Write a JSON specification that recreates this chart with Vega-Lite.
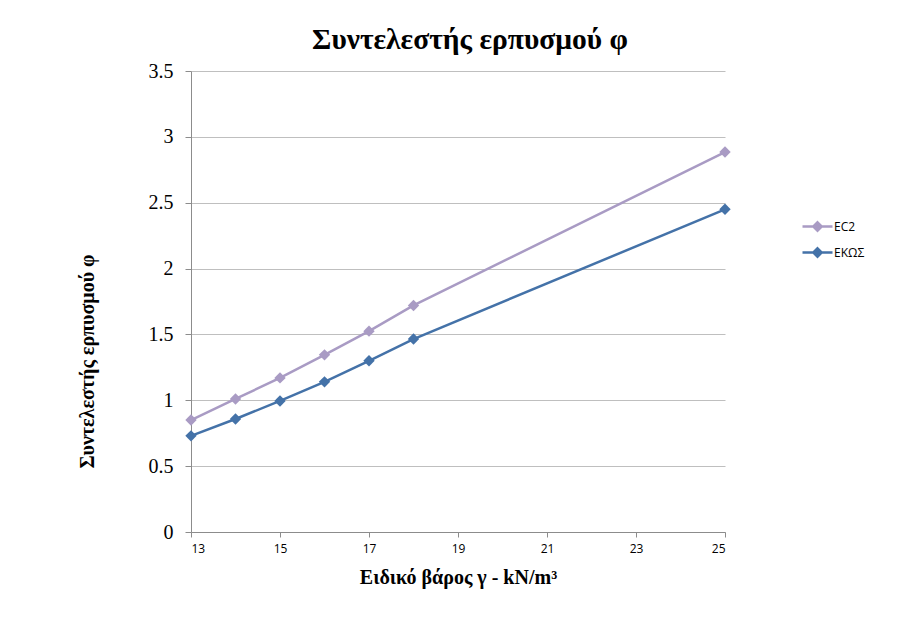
{
  "$schema": "https://vega.github.io/schema/vega-lite/v6.json",
  "width": 534,
  "height": 461,
  "autosize": {"type": "none"},
  "padding": {"left": 191, "top": 71, "right": 190, "bottom": 99},
  "background": "white",
  "config": {
    "view": {"stroke": null},
    "axis": {"domainColor": "#8C8C8C", "tickColor": "#8C8C8C", "gridColor": "#BFBFBF", "labelColor": "#000000", "titleColor": "#000000"}
  },
  "title": {
    "text": "Συντελεστής ερπυσμού φ",
    "font": "Liberation Serif",
    "fontSize": 29.5,
    "fontWeight": "bold",
    "color": "#000000",
    "anchor": "middle",
    "baseline": "alphabetic",
    "offset": -17,
    "dx": 12
  },
  "data": {
    "values": [
      {"gamma": 13, "phi": 0.85, "series": "EC2"},
      {"gamma": 14, "phi": 1.01, "series": "EC2"},
      {"gamma": 15, "phi": 1.17, "series": "EC2"},
      {"gamma": 16, "phi": 1.345, "series": "EC2"},
      {"gamma": 17, "phi": 1.525, "series": "EC2"},
      {"gamma": 18, "phi": 1.72, "series": "EC2"},
      {"gamma": 25, "phi": 2.885, "series": "EC2"},
      {"gamma": 13, "phi": 0.73, "series": "ΕΚΩΣ"},
      {"gamma": 14, "phi": 0.858, "series": "ΕΚΩΣ"},
      {"gamma": 15, "phi": 0.995, "series": "ΕΚΩΣ"},
      {"gamma": 16, "phi": 1.14, "series": "ΕΚΩΣ"},
      {"gamma": 17, "phi": 1.3, "series": "ΕΚΩΣ"},
      {"gamma": 18, "phi": 1.465, "series": "ΕΚΩΣ"},
      {"gamma": 25, "phi": 2.45, "series": "ΕΚΩΣ"}
    ]
  },
  "encoding": {
    "x": {
      "field": "gamma",
      "type": "quantitative",
      "scale": {"domain": [13, 25], "nice": false, "zero": false},
      "axis": {
        "title": "Ειδικό βάρος γ - kN/m³",
        "titleFont": "Liberation Serif",
        "titleFontSize": 20,
        "titleFontWeight": "bold",
        "titleBaseline": "alphabetic",
        "titleY": 51,
        "values": [13, 15, 17, 19, 21, 23, 25],
        "grid": false,
        "labelFont": "Open Sans",
        "labelFontSize": 12,
        "labelPadding": 6,
        "tickSize": 5
      }
    },
    "y": {
      "field": "phi",
      "type": "quantitative",
      "scale": {"domain": [0, 3.5], "nice": false},
      "axis": {
        "title": "Συντελεστής ερπυσμού φ",
        "titleFont": "Liberation Serif",
        "titleFontSize": 20,
        "titleFontWeight": "bold",
        "titleX": -94,
        "titleY": 290,
        "values": [0, 0.5, 1, 1.5, 2, 2.5, 3, 3.5],
        "format": "~g",
        "labelFont": "Liberation Serif",
        "labelFontSize": 20,
        "labelPadding": 12,
        "tickSize": 6
      }
    },
    "color": {
      "field": "series",
      "type": "nominal",
      "scale": {"domain": ["EC2", "ΕΚΩΣ"], "range": ["#A99BC4", "#4472A8"]},
      "legend": {
        "title": null,
        "orient": "none",
        "legendX": 610,
        "legendY": 139,
        "symbolType": "M-1,0H1M0,-0.28L0.28,0L0,0.28L-0.28,0Z",
        "symbolSize": 900,
        "symbolStrokeWidth": 2.5,
        "labelFont": "Open Sans",
        "labelFontSize": 12,
        "labelOffset": 0,
        "rowPadding": -5,
        "encode": {
          "symbols": {
            "update": {
              "fill": {"scale": "color", "field": "value"},
              "stroke": {"scale": "color", "field": "value"}
            }
          }
        }
      }
    }
  },
  "layer": [
    {"mark": {"type": "line", "strokeWidth": 2.5}},
    {"mark": {"type": "point", "shape": "diamond", "filled": true, "size": 130, "opacity": 1}}
  ]
}
